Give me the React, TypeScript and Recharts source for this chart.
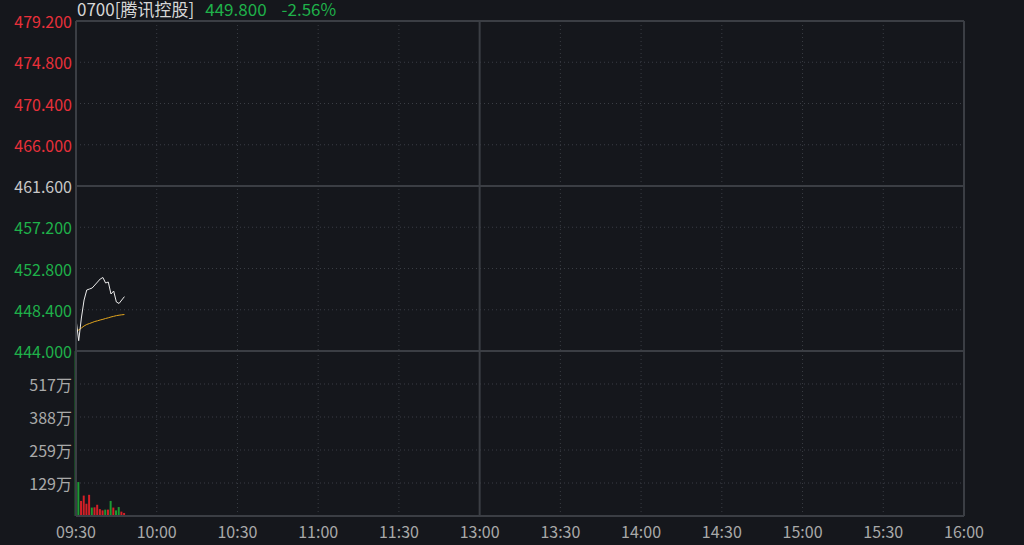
import React from "react";
import {
  LineChart,
  Line,
  BarChart,
  Bar,
  Cell,
  XAxis,
  YAxis,
  CartesianGrid,
  ReferenceLine,
} from "recharts";

// minutes since 09:30 (lunch break squeezed out)
const minutes = [0, 1, 2, 3, 4, 5, 6, 7, 8, 9, 10, 11, 12, 13, 14, 15, 16, 17, 18];
const price = [
  447.4, 445.1, 447.52, 449.44, 450.51, 450.61, 450.72, 451.04, 451.36, 451.68,
  451.84, 451.25, 451.36, 450.08, 450.4, 449.23, 449.07, 449.44, 449.8,
];
const avgPrice = [
  446.19, 446.24, 446.45, 446.67, 446.83, 446.93, 447.04, 447.15, 447.22, 447.31,
  447.38, 447.47, 447.54, 447.63, 447.7, 447.77, 447.82, 447.86, 447.89,
];
// volume in 万 shares
const volume = [646, 133, 59, 80, 48, 83, 33, 34, 44, 27, 22, 25, 25, 59, 33, 22, 35, 17, 12];
const volumeDir = [
  "down", "down", "up", "up", "up", "up", "down", "up", "up", "up",
  "up", "down", "up", "down", "up", "down", "down", "up", "up",
];

const timeTicks = [0, 30, 60, 90, 120, 150, 180, 210, 240, 270, 300, 330];
const timeLabels = [
  "09:30", "10:00", "10:30", "11:00", "11:30", "13:00",
  "13:30", "14:00", "14:30", "15:00", "15:30", "16:00",
];
const priceTicks = [479.2, 474.8, 470.4, 466.0, 461.6, 457.2, 452.8, 448.4, 444.0];
const volumeTicks = [129.25, 258.5, 387.75, 517];

const PREV_CLOSE = 461.6;
const LAST = 449.8;
const CHANGE_PCT = "-2.56%";
const LUNCH = 150;

const BG = "#15171c";
const FRAME = "#3b3e44";
const DOTS = "#3a3d44";
const RED = "#e8303a";
const GREEN = "#1fb14a";
const GREY = "#a9a9a9";
const FONT = "'Noto Sans CJK SC', 'Noto Sans', sans-serif";
const FS = 16;

const priceData = minutes.map((m, i) => ({ m, price: price[i], avg: avgPrice[i] }));
const volumeData = minutes.map((m, i) => ({ m, vol: volume[i], dir: volumeDir[i] }));

function colorFor(v: number) {
  if (Math.abs(v - PREV_CLOSE) < 1e-6) return "#c8c8c8";
  return v > PREV_CLOSE ? RED : GREEN;
}

function PriceTick({ x, y, payload }: any) {
  const v = payload.value as number;
  return (
    <text x={x} y={y} textAnchor="end" dominantBaseline="central" fill={colorFor(v)} fontSize={FS} fontFamily={FONT}>
      {v.toFixed(3)}
    </text>
  );
}

function PctTick({ x, y, payload }: any) {
  const v = payload.value as number;
  const pct = Math.abs(((v - PREV_CLOSE) / PREV_CLOSE) * 100).toFixed(2) + "%";
  return (
    <text x={x} y={y} textAnchor="start" dominantBaseline="central" fill={colorFor(v)} fontSize={FS} fontFamily={FONT}>
      {pct}
    </text>
  );
}

function VolTick({ x, y, payload, anchor }: any) {
  return (
    <text x={x} y={y} textAnchor={anchor} dominantBaseline="central" fill={GREY} fontSize={FS} fontFamily={FONT}>
      {Math.round(payload.value)}万
    </text>
  );
}

function TimeTick({ x, y, payload }: any) {
  const idx = timeTicks.indexOf(payload.value);
  return (
    <text x={x} y={y + 15} textAnchor="middle" dominantBaseline="central" fill={GREY} fontSize={FS} fontFamily={FONT}>
      {timeLabels[idx]}
    </text>
  );
}

const innerV = timeTicks.filter((t) => t !== 0 && t !== LUNCH && t !== 330);

const headSpan: React.CSSProperties = {
  display: "inline-block",
  height: 18,
  lineHeight: "18px",
  overflow: "visible",
  verticalAlign: "top",
};

export default function App() {
  return (
    <div
      style={{
        position: "absolute",
        left: 0,
        top: 0,
        width: 1024,
        height: 545,
        background: BG,
        fontFamily: FONT,
        overflow: "hidden",
      }}
    >
      <div style={{ position: "absolute", left: 0, top: 351 }}>
        <BarChart width={1024} height={194} data={volumeData} margin={{ top: 0, right: 0, bottom: 0, left: 0 }}>
          <CartesianGrid
            xAxisId="t"
            yAxisId="left"
            stroke={DOTS}
            strokeDasharray="1 3"
            horizontalValues={volumeTicks}
            verticalValues={innerV}
          />
          <XAxis
            xAxisId="t"
            dataKey="m"
            type="number"
            domain={[0, 330]}
            ticks={timeTicks}
            interval={0}
            height={29}
            tickLine={false}
            tickSize={0}
            tickMargin={0}
            axisLine={{ stroke: FRAME, strokeWidth: 2 }}
            tick={<TimeTick />}
          />
          <YAxis
            yAxisId="left"
            orientation="left"
            width={76}
            domain={[0, 646.25]}
            ticks={volumeTicks}
            interval={0}
            tickLine={false}
            tickSize={0}
            tickMargin={4}
            axisLine={{ stroke: FRAME, strokeWidth: 2 }}
            tick={<VolTick anchor="end" />}
          />
          <YAxis
            yAxisId="right"
            orientation="right"
            width={60}
            domain={[0, 646.25]}
            ticks={volumeTicks}
            interval={0}
            tickLine={false}
            tickSize={0}
            tickMargin={5}
            axisLine={{ stroke: FRAME, strokeWidth: 2 }}
            tick={<VolTick anchor="start" />}
          />
          <ReferenceLine xAxisId="t" yAxisId="left" x={LUNCH} stroke={FRAME} strokeWidth={2} />
          <Bar xAxisId="t" yAxisId="left" dataKey="vol" barSize={2} isAnimationActive={false}>
            {volumeData.map((d, i) => (
              <Cell key={i} fill={d.dir === "up" ? "#d42027" : "#1d9a33"} />
            ))}
          </Bar>
        </BarChart>
      </div>

      <div style={{ position: "absolute", left: 0, top: 0 }}>
        <LineChart width={1024} height={362} data={priceData} margin={{ top: 21, right: 0, bottom: 11, left: 0 }}>
          <CartesianGrid
            xAxisId="t"
            yAxisId="left"
            stroke={DOTS}
            strokeDasharray="1 3"
            horizontalValues={priceTicks}
            verticalValues={innerV}
          />
          <XAxis xAxisId="t" dataKey="m" type="number" domain={[0, 330]} ticks={timeTicks} hide />
          <YAxis
            yAxisId="left"
            orientation="left"
            width={76}
            domain={[444, 479.2]}
            ticks={priceTicks}
            interval={0}
            tickLine={false}
            tickSize={0}
            tickMargin={4}
            axisLine={{ stroke: FRAME, strokeWidth: 2 }}
            tick={<PriceTick />}
          />
          <YAxis
            yAxisId="right"
            orientation="right"
            width={60}
            domain={[444, 479.2]}
            ticks={priceTicks}
            interval={0}
            tickLine={false}
            tickSize={0}
            tickMargin={5}
            axisLine={{ stroke: FRAME, strokeWidth: 2 }}
            tick={<PctTick />}
          />
          <ReferenceLine xAxisId="t" yAxisId="left" y={479.2} stroke={FRAME} strokeWidth={2} />
          <ReferenceLine xAxisId="t" yAxisId="left" y={PREV_CLOSE} stroke={FRAME} strokeWidth={2} />
          <ReferenceLine xAxisId="t" yAxisId="left" y={444} stroke={FRAME} strokeWidth={2} />
          <ReferenceLine xAxisId="t" yAxisId="left" x={LUNCH} stroke={FRAME} strokeWidth={2} />
          <Line
            xAxisId="t"
            yAxisId="left"
            dataKey="avg"
            type="linear"
            stroke="#e2a51c"
            strokeWidth={1}
            dot={false}
            isAnimationActive={false}
          />
          <Line
            xAxisId="t"
            yAxisId="left"
            dataKey="price"
            type="linear"
            stroke="#ececec"
            strokeWidth={1}
            dot={false}
            isAnimationActive={false}
          />
        </LineChart>
      </div>

      <div style={{ position: "absolute", left: 77, top: 0, fontSize: 17, whiteSpace: "nowrap" }}>
        <span style={{ ...headSpan, color: "#d6d6d6" }}>0700[腾讯控股]</span>
        <span style={{ ...headSpan, color: GREEN, marginLeft: 11 }}>{LAST.toFixed(3)}</span>
        <span style={{ ...headSpan, color: GREEN, marginLeft: 15 }}>{CHANGE_PCT}</span>
      </div>
    </div>
  );
}
